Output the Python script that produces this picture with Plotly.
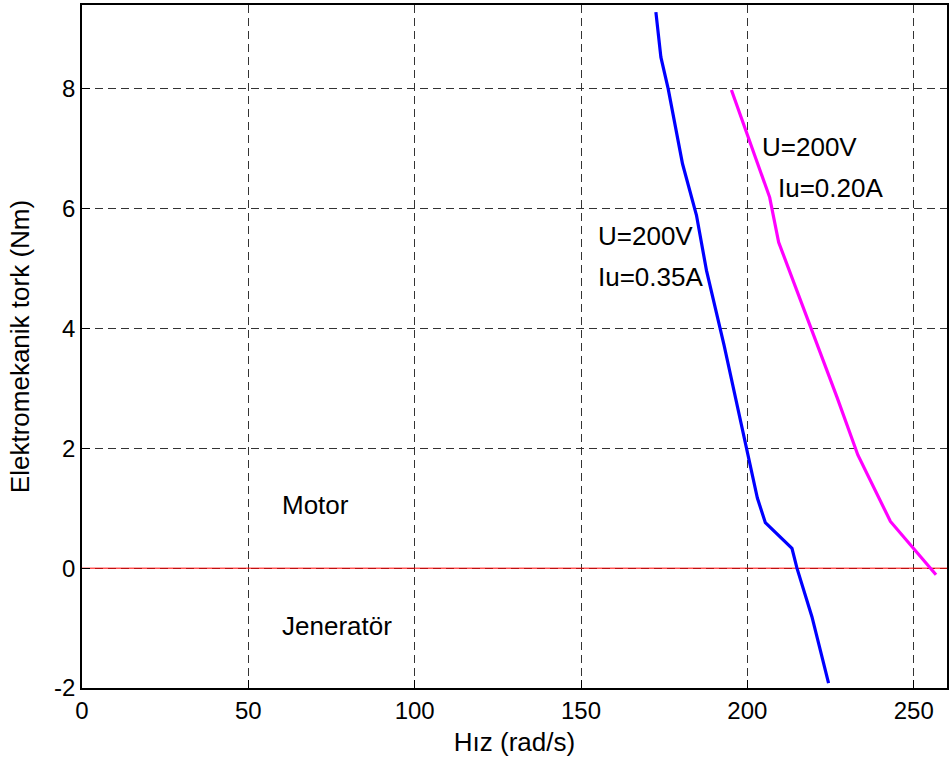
import plotly.graph_objects as go

# Blue curve: U=200V, Iu=0.35A
speed_035 = [172.5, 174.0, 176.2, 180.5, 184.7, 187.7, 193.0, 199.7, 203.0, 205.4, 213.4, 214.9, 219.4, 224.4]
torque_035 = [9.28, 8.53, 8.00, 6.75, 5.89, 4.97, 3.72, 2.00, 1.17, 0.76, 0.33, 0.00, -0.81, -1.92]

# Magenta curve: U=200V, Iu=0.20A
speed_020 = [195.2, 206.7, 209.4, 221.2, 226.9, 233.2, 243.0, 256.7]
torque_020 = [7.98, 6.19, 5.44, 3.72, 2.86, 1.89, 0.78, -0.11]

# Zero-torque reference line
zero_x = [0, 260]
zero_y = [0, 0]

x_ticks = [0, 50, 100, 150, 200, 250]
y_ticks = [-2, 0, 2, 4, 6, 8]

FONT = "Liberation Sans, Arial, sans-serif"
FS_TICK = 24
FS_TEXT = 26
FS_TITLE = 26

fig = go.Figure()
fig.add_trace(go.Scatter(x=zero_x, y=zero_y, mode="lines",
                         line=dict(color="#ff0000", width=1), showlegend=False))
fig.add_trace(go.Scatter(x=speed_035, y=torque_035, mode="lines",
                         line=dict(color="#0000ff", width=3.2), showlegend=False))
fig.add_trace(go.Scatter(x=speed_020, y=torque_020, mode="lines",
                         line=dict(color="#ff00ff", width=3.2), showlegend=False))

labels = [
    (155.4, 5.51, "U=200V"),
    (155.4, 4.83, "Iu=0.35A"),
    (204.7, 6.99, "U=200V"),
    (209.4, 6.32, "Iu=0.20A"),
    (60.4, 1.02, "Motor"),
    (60.4, -1.00, "Jeneratör"),
]
for x, y, t in labels:
    fig.add_annotation(x=x, y=y, text=t, showarrow=False, xanchor="left",
                       yanchor="middle", xshift=-3, yshift=2,
                       font=dict(family=FONT, size=FS_TEXT, color="black"))

axis_common = dict(
    showline=True, linecolor="black", linewidth=1.5, mirror=True,
    ticks="inside", ticklen=8, tickcolor="black", tickwidth=1,
    showgrid=True, gridcolor="#333333", gridwidth=1, griddash="8px,5px",
    zeroline=False, tickfont=dict(family=FONT, size=FS_TICK, color="black"),
)

fig.update_xaxes(range=[0, 260], tickvals=x_ticks, ticktext=[str(v) for v in x_ticks],
                 title=dict(text="Hız (rad/s)", font=dict(family=FONT, size=FS_TITLE, color="black"), standoff=10),
                 **axis_common)
fig.update_yaxes(range=[-2, 9.4], tickvals=y_ticks, ticktext=[str(v) for v in y_ticks],
                 title=dict(text="Elektromekanik tork (Nm)", font=dict(family=FONT, size=FS_TITLE, color="black"), standoff=17),
                 **axis_common)

fig.update_layout(
    width=950, height=765,
    margin=dict(l=82, r=1, t=5, b=77, pad=0),
    plot_bgcolor="white", paper_bgcolor="white",
    font=dict(family=FONT, size=FS_TICK, color="black"),
)

post = ("document.body.style.margin='0';document.body.style.overflow='hidden';"
        "var gd=document.getElementById('{plot_id}');"
        "Plotly.relayout(gd,{width:950,height:765});")

fig.write_html("out.html", post_script=post, config={"displayModeBar": False})
